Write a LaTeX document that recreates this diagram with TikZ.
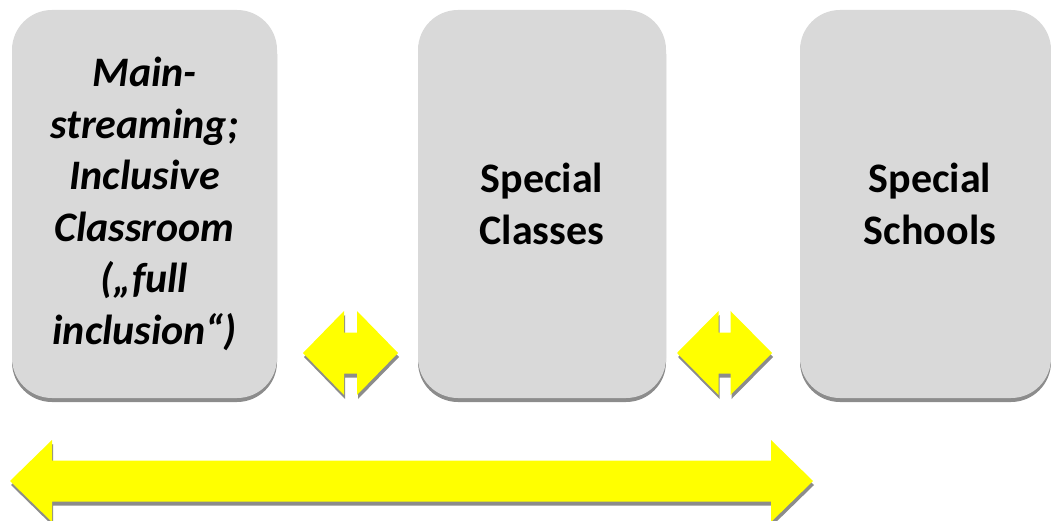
\documentclass[tikz,border=0pt]{standalone}
\usepackage{fontspec}
\setmainfont{Carlito}
\usetikzlibrary{shadows}
\definecolor{boxgray}{RGB}{217,217,217}
\definecolor{shadowgray}{RGB}{140,140,140}
\definecolor{arrowyellow}{RGB}{255,255,0}
\newcommand{\myDA}[7]{%
  % #1 left tip x, #2 right tip x, #3 centre y, #4 head length, #5 half shaft, #6 half head, #7 style
  \fill[#7] (#1,#3) -- (#1+#4,#3-#6) -- (#1+#4,#3-#5) -- (#2-#4,#3-#5) -- (#2-#4,#3-#6)
     -- (#2,#3) -- (#2-#4,#3+#6) -- (#2-#4,#3+#5) -- (#1+#4,#3+#5) -- (#1+#4,#3+#6) -- cycle;}
\begin{document}
\begin{tikzpicture}[x=1pt,y=-1pt,
  box/.style={fill=boxgray, rounded corners=40pt, inner sep=0pt,
    drop shadow={shadow xshift=0pt, shadow yshift=-4pt, fill=shadowgray, opacity=1}},
  boxtext/.style={align=center, font=\fontsize{42}{51.5}\selectfont\bfseries},
  ashadow/.style={shadowgray, shift={(1,4)}},
  afill/.style={arrowyellow}]
\useasboundingbox (0,0) rectangle (1051,521);
% boxes
\node[box, minimum width=265pt, minimum height=388pt, boxtext, font=\fontsize{42}{51.5}\selectfont\bfseries\itshape] (b1) at (144.5,204)
  {Main-\\streaming;\\Inclusive\\Classroom\\(„full\\inclusion“)};
\node[box, minimum width=248pt, minimum height=388pt, boxtext] (b2) at (542,204) {Special\\Classes};
\node[box, minimum width=251pt, minimum height=388pt] (b3) at (925.5,204) {};
\node[boxtext] (t3) at (930,204) {Special\\Schools};
% small double arrows
\myDA{303}{398}{353}{41}{20.5}{42}{ashadow}
\myDA{303}{398}{353}{41}{20.5}{42}{afill}
\myDA{677}{772}{353}{41.5}{20.5}{42}{ashadow}
\myDA{677}{772}{353}{41.5}{20.5}{42}{afill}
% big double arrow
\myDA{10}{813}{481}{42}{20.5}{41}{ashadow}
\myDA{10}{813}{481}{42}{20.5}{41}{afill}
\end{tikzpicture}
\end{document}
